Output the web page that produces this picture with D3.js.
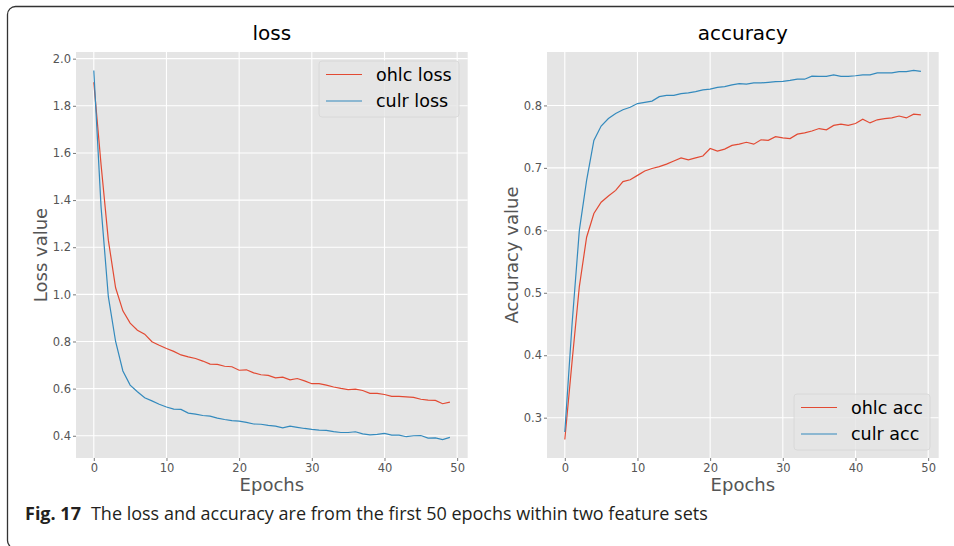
<!DOCTYPE html>
<html>
<head>
<meta charset="utf-8">
<script src="https://cdn.jsdelivr.net/npm/d3@7"></script>
<style>
  body { margin: 0; background: #fff; }
  .tick text { fill: #555; }
</style>
</head>
<body>
<div class="chart"></div>
<script>
// Data (epochs 0..49)
var epochs = d3.range(50);

var ohlcLoss = [1.90, 1.55, 1.23, 1.028, 0.93, 0.878, 0.848, 0.831, 0.799, 0.784,
  0.770, 0.758, 0.743, 0.735, 0.728, 0.717, 0.704, 0.703, 0.695, 0.693,
  0.678, 0.680, 0.667, 0.659, 0.656, 0.646, 0.649, 0.637, 0.643, 0.633,
  0.621, 0.621, 0.615, 0.607, 0.601, 0.596, 0.598, 0.592, 0.580, 0.580,
  0.575, 0.567, 0.567, 0.565, 0.563, 0.555, 0.551, 0.550, 0.536, 0.543];

var culrLoss = [1.95, 1.37, 0.99, 0.80, 0.675, 0.615, 0.587, 0.561, 0.548, 0.534,
  0.522, 0.513, 0.512, 0.496, 0.492, 0.486, 0.483, 0.475, 0.469, 0.464,
  0.462, 0.457, 0.450, 0.449, 0.444, 0.441, 0.434, 0.441, 0.436, 0.431,
  0.427, 0.424, 0.423, 0.418, 0.414, 0.414, 0.417, 0.408, 0.404, 0.406,
  0.410, 0.403, 0.403, 0.396, 0.400, 0.401, 0.390, 0.391, 0.384, 0.393];

var ohlcAcc = [0.265, 0.39, 0.51, 0.589, 0.627, 0.645, 0.655, 0.664, 0.678, 0.681,
  0.688, 0.695, 0.699, 0.702, 0.706, 0.711, 0.716, 0.713, 0.716, 0.719,
  0.731, 0.727, 0.730, 0.736, 0.738, 0.741, 0.738, 0.745, 0.744, 0.750,
  0.748, 0.747, 0.754, 0.756, 0.759, 0.763, 0.761, 0.768, 0.770, 0.768,
  0.771, 0.778, 0.772, 0.777, 0.779, 0.780, 0.783, 0.780, 0.786, 0.785];

var culrAcc = [0.277, 0.45, 0.60, 0.68, 0.744, 0.767, 0.779, 0.787, 0.793, 0.797,
  0.803, 0.805, 0.807, 0.814, 0.816, 0.816, 0.819, 0.820, 0.822, 0.825,
  0.826, 0.829, 0.830, 0.833, 0.835, 0.834, 0.836, 0.836, 0.837, 0.838,
  0.8385, 0.840, 0.842, 0.842, 0.847, 0.8465, 0.8465, 0.849, 0.8465, 0.8465,
  0.8475, 0.849, 0.849, 0.852, 0.852, 0.852, 0.854, 0.854, 0.856, 0.8545];

var xTicks = [0, 10, 20, 30, 40, 50];
var lossTicks = [0.4, 0.6, 0.8, 1.0, 1.2, 1.4, 1.6, 1.8, 2.0];
var accTicks = [0.3, 0.4, 0.5, 0.6, 0.7, 0.8];

var red = "#E24A33", blue = "#348ABD";

var svgWidth = 954, svgHeight = 546;

var svg = d3.select(".chart")
    .append("svg")
    .attr("width", svgWidth)
    .attr("height", svgHeight)
    .style("display", "block")
    .style("font-family", "'DejaVu Sans', sans-serif");

// frame around the figure (bottom edge falls just off the page)
svg.append("rect")
    .attr("x", 7.5).attr("y", 6.5)
    .attr("width", 960).attr("height", 542)
    .attr("rx", 8)
    .attr("fill", "none")
    .attr("stroke", "#333")
    .attr("stroke-width", 1.3);

function drawPanel(p) {
    var top = 52, bottom = 458;

    var xScale = d3.scaleLinear().domain([-2.45, 51.45]).range([p.left, p.right]);

    var all = p.series[0].values.concat(p.series[1].values);
    var lo = d3.min(all), hi = d3.max(all), pad = (hi - lo) * 0.05;
    var yScale = d3.scaleLinear().domain([lo - pad, hi + pad]).range([bottom, top]);

    var g = svg.append("g");

    // background
    g.append("rect")
        .attr("x", p.left).attr("y", top)
        .attr("width", p.right - p.left).attr("height", bottom - top)
        .attr("fill", "#E5E5E5");

    // grid
    g.selectAll(".gx").data(xTicks).enter().append("line")
        .attr("x1", function(d) { return xScale(d); })
        .attr("x2", function(d) { return xScale(d); })
        .attr("y1", top).attr("y2", bottom)
        .attr("stroke", "#fff").attr("stroke-width", 1.1);
    g.selectAll(".gy").data(p.yTicks).enter().append("line")
        .attr("x1", p.left).attr("x2", p.right)
        .attr("y1", function(d) { return yScale(d); })
        .attr("y2", function(d) { return yScale(d); })
        .attr("stroke", "#fff").attr("stroke-width", 1.1);

    // axes
    var bottomAxis = d3.axisBottom(xScale).tickValues(xTicks).tickSize(3).tickPadding(3)
        .tickFormat(d3.format("d"));
    var leftAxis = d3.axisLeft(yScale).tickValues(p.yTicks).tickSize(3).tickPadding(2)
        .tickFormat(d3.format(".1f"));

    var gx = g.append("g")
        .attr("transform", "translate(0," + bottom + ")")
        .call(bottomAxis);
    var gy = g.append("g")
        .attr("transform", "translate(" + p.left + ",0)")
        .call(leftAxis);
    [gx, gy].forEach(function(a) {
        a.select(".domain").remove();
        a.selectAll(".tick line").attr("stroke", "#555").attr("stroke-width", 0.8);
        a.selectAll(".tick text")
            .style("font-family", "'DejaVu Sans', sans-serif")
            .style("font-size", "11.5px");
    });

    // lines
    var line = d3.line()
        .x(function(d, i) { return xScale(epochs[i]); })
        .y(function(d) { return yScale(d); });

    p.series.forEach(function(s) {
        g.append("path")
            .datum(s.values)
            .attr("d", line)
            .attr("fill", "none")
            .attr("stroke", s.color)
            .attr("stroke-width", 1.2);
    });

    // title
    var cx = (p.left + p.right) / 2;
    g.append("text")
        .attr("x", cx).attr("y", 40)
        .attr("text-anchor", "middle")
        .style("font-size", "20px")
        .attr("fill", "#000")
        .text(p.title);

    // axis labels
    g.append("text")
        .attr("x", cx).attr("y", 491)
        .attr("text-anchor", "middle")
        .style("font-size", "18px")
        .attr("fill", "#555")
        .text("Epochs");

    g.append("text")
        .attr("transform", "translate(" + p.ylabelX + "," + ((top + bottom) / 2) + ") rotate(-90)")
        .attr("text-anchor", "middle")
        .style("font-size", "18px")
        .attr("fill", "#555")
        .text(p.ylabel);

    // legend
    var lw = p.legendW, lh = 56;
    var lx = p.right - 8.7 - lw;
    var ly = p.legendTop ? top + 9 : bottom - 8 - lh;
    var leg = g.append("g").attr("transform", "translate(" + lx + "," + ly + ")");
    leg.append("rect")
        .attr("width", lw).attr("height", lh).attr("rx", 3)
        .attr("fill", "#E5E5E5").attr("fill-opacity", 0.8)
        .attr("stroke", "#d6d6d6").attr("stroke-width", 0.8);
    p.series.forEach(function(s, i) {
        var yy = 13.5 + i * 26.5;
        leg.append("line")
            .attr("x1", 7).attr("x2", 43)
            .attr("y1", yy).attr("y2", yy)
            .attr("stroke", s.color).attr("stroke-width", 1.2);
        leg.append("text")
            .attr("x", 57).attr("y", yy).attr("dy", "0.36em")
            .style("font-size", "17.5px")
            .attr("fill", "#000")
            .text(s.name);
    });
}

drawPanel({
    left: 76, right: 467.7, title: "loss", ylabel: "Loss value", ylabelX: 46.5,
    yTicks: lossTicks, legendTop: true, legendW: 140,
    series: [{name: "ohlc loss", values: ohlcLoss, color: red},
             {name: "culr loss", values: culrLoss, color: blue}]
});

drawPanel({
    left: 547, right: 938.7, title: "accuracy", ylabel: "Accuracy value", ylabelX: 518,
    yTicks: accTicks, legendTop: false, legendW: 136,
    series: [{name: "ohlc acc", values: ohlcAcc, color: red},
             {name: "culr acc", values: culrAcc, color: blue}]
});

// caption
var cap = svg.append("text")
    .attr("x", 25).attr("y", 520)
    .style("font-family", "'Open Sans', 'Noto Sans', sans-serif")
    .style("font-size", "18px")
    .attr("fill", "#231f20");
cap.append("tspan").style("font-weight", "bold").text("Fig. 17");
cap.append("tspan").attr("dx", 10).text("The loss and accuracy are from the first 50 epochs within two feature sets");
</script>
</body>
</html>
